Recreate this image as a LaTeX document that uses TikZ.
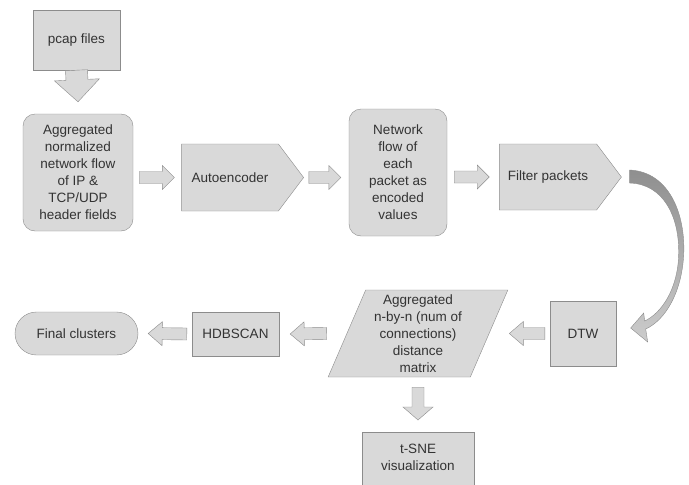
\documentclass[tikz,border=0pt]{standalone}
\usepackage{fontspec}
\setmainfont{Liberation Sans}
\usetikzlibrary{positioning,shapes.geometric,shapes.symbols,calc}
\definecolor{boxfill}{HTML}{D9D9D9}
\definecolor{boxline}{HTML}{8C8C8C}
\definecolor{txtgray}{HTML}{333333}
\definecolor{curvedark}{HTML}{8F8F8F}
\definecolor{curvelight}{HTML}{CCCCCC}

\tikzset{
  box/.style={draw=boxline, fill=boxfill, text=txtgray, align=center, inner sep=0pt,
    font=\fontsize{13.5}{17}\selectfont},
  roundbox/.style={box, rounded corners=12pt},
  sigbox/.style={box, shape=signal, signal to=east, signal pointer angle=106},
  databox/.style={box, trapezium, trapezium left angle=68, trapezium right angle=112,
    trapezium stretches=true},
  fatarr/.style={draw=boxline, fill=boxfill, line join=miter},
}

% block arrow: from, to, shaft half width, head half width, head length
\newcommand{\fatarrow}[5]{%
  \path[fatarr] let \p1=#1, \p2=#2, \n1={atan2(\y2-\y1,\x2-\x1)},
      \n2={veclen(\x2-\x1,\y2-\y1)} in
    [shift={(\p1)}, rotate=\n1]
    (0pt,{-#3pt}) -- ({\n2-#5pt},{-#3pt}) -- ({\n2-#5pt},{-#4pt}) -- ({\n2*1pt},0pt)
    -- ({\n2-#5pt},{#4pt}) -- ({\n2-#5pt},{#3pt}) -- (0pt,{#3pt}) -- cycle;
}

\begin{document}
\begin{tikzpicture}[x=1pt, y=-1pt]
\useasboundingbox (0,0) rectangle (689,485);
\fill[white] (0,0) rectangle (689,485);

% Top row
\node[box, minimum width=87pt, minimum height=60pt] (pcap) at (76.5,40) {pcap files};
\node[roundbox, minimum width=110pt, minimum height=117pt] (agg) at (78,172.5)
  {Aggregated\\normalized\\network flow\\of IP \&\\TCP/UDP\\header fields};
\node[sigbox, minimum width=122pt, minimum height=67pt] (auto) at (230,177.5) {Autoencoder};
\node[roundbox, minimum width=98pt, minimum height=127pt] (netflow) at (398,172.5)
  {Network\\flow of\\each\\packet as\\encoded\\values};
\node[sigbox, minimum width=122pt, minimum height=66pt] (filter) at (548,177) {Filter packets};

% Bottom row
\node[box, minimum width=66pt, minimum height=65pt] (dtw) at (583,333.5) {DTW};
\node[databox, minimum width=180pt, minimum height=87pt] (dist) at (418,333.5)
  {Aggregated\\n-by-n (num of\\connections)\\distance\\matrix};
\node[box, minimum width=87pt, minimum height=44pt] (hdbscan) at (235.5,334) {HDBSCAN};
\node[box, rounded corners=21.5pt, minimum width=123pt, minimum height=43pt] (final)
  at (76.5,333.5) {Final clusters};
\node[box, minimum width=112pt, anchor=north, inner ysep=12pt, text depth=30pt] (tsne)
  at (418,432) {t-SNE\\visualization};

% Block arrows
\fatarrow{(pcap.south)}{($(agg.north)+(0,-12)$)}{11}{22.5}{22}
\fatarrow{($(agg.east |- auto.west)+(6,0)$)}{($(auto.west)+(-7,0)$)}{6}{12}{12}
\fatarrow{($(auto.east)+(5,0)$)}{($(netflow.west |- auto.east)+(-8,0)$)}{6}{12}{12}
\fatarrow{($(netflow.east |- filter.west)+(7,0)$)}{($(filter.west)+(-10,0)$)}{6}{12}{12}
\fatarrow{($(dtw.west)+(-5,0)$)}{($(dist.east)+(20,0)$)}{6}{12}{14}
\fatarrow{($(dist.west)+(-20,0)$)}{($(hdbscan.east)+(11,0)$)}{6}{12}{14}
\fatarrow{($(hdbscan.west)+(-5,0)$)}{($(final.east)+(10,0)$)}{6}{12}{14}
\fatarrow{($(dist.south)+(0,10)$)}{($(tsne.north)+(0,-12)$)}{6}{15}{13}

% Curved arrow from filter packets down to DTW
\begin{scope}[shift={(filter.east)}]
\path[draw=boxline, top color=curvedark, bottom color=curvelight]
  (8,-7) .. controls (48,-5) and (64,38) .. (62,78)
  .. controls (60,115) and (44,143) .. (24,152)
  -- (26,165) -- (9,151) -- (22,136) -- (23,144)
  .. controls (40,136) and (56,112) .. (57,78)
  .. controls (58,40) and (42,7) .. (8,6) -- cycle;
\end{scope}

\end{tikzpicture}
\end{document}
